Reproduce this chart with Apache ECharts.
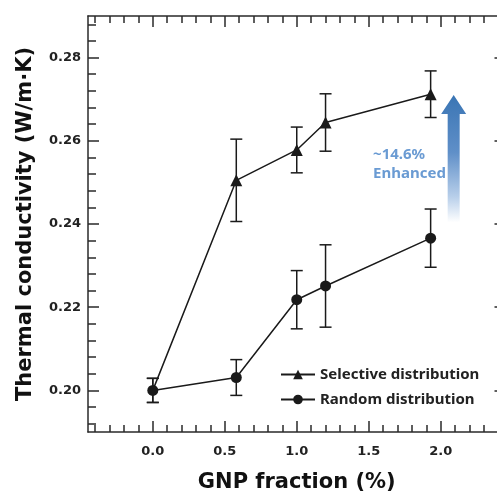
<!DOCTYPE html>
<html>
<head>
<meta charset="utf-8">
<script src="https://cdn.jsdelivr.net/npm/echarts@6/dist/echarts.min.js"></script>
<style>html,body{margin:0;padding:0;background:#fff;}#c{width:497px;height:496px;}</style>
</head>
<body>
<div id="c"></div>
<script>
// ---- data ----
const gnpFraction = [0, 0.58, 1.0, 1.2, 1.93];
const selective = [0.200, 0.2505, 0.2578, 0.2644, 0.2712];
const selectiveErr = [0.0029, 0.0099, 0.0055, 0.0069, 0.0056];
const random = [0.200, 0.2031, 0.2218, 0.2251, 0.2366];
const randomErr = [0.0029, 0.0043, 0.0070, 0.0099, 0.0070];
const seriesNames = ['Selective distribution', 'Random distribution'];
const annotationLines = ['~14.6%', 'Enhanced'];

// ---- ticks ----
const xMajor = [0, 0.5, 1.0, 1.5, 2.0];
const xMinor = [-0.4, -0.3, -0.2, -0.1, 0.1, 0.2, 0.3, 0.4, 0.6, 0.7, 0.8, 0.9,
  1.1, 1.2, 1.3, 1.4, 1.6, 1.7, 1.8, 1.9, 2.1, 2.2, 2.3, 2.4];
const yMajor = [0.20, 0.22, 0.24, 0.26, 0.28];
const yMinor = [0.192, 0.196, 0.204, 0.208, 0.212, 0.216, 0.224, 0.228, 0.232, 0.236,
  0.244, 0.248, 0.252, 0.256, 0.264, 0.268, 0.272, 0.276, 0.284, 0.288];

const X_MIN = -0.45, X_MAX = 2.45, Y_MIN = 0.19, Y_MAX = 0.29;
const AX = '#2a2a2a';
const LINE = '#1a1a1a';

function xAx(pos, ticks, len, showLine, labels) {
  return {
    type: 'value', min: X_MIN, max: X_MAX, position: pos,
    axisLine: { show: showLine, onZero: false, lineStyle: { color: AX, width: 1.5 } },
    axisTick: { show: true, inside: true, length: len, customValues: ticks, lineStyle: { color: AX, width: 1.5 } },
    axisLabel: labels ? {
      show: true, customValues: ticks, margin: 13,
      fontFamily: 'DejaVu Sans', fontWeight: 'bold', fontSize: 13, color: '#222',
      formatter: v => v.toFixed(1)
    } : { show: false },
    splitLine: { show: false }
  };
}
function yAx(pos, ticks, len, showLine, labels) {
  return {
    type: 'value', min: Y_MIN, max: Y_MAX, position: pos,
    axisLine: { show: showLine, onZero: false, lineStyle: { color: AX, width: 1.5 } },
    axisTick: { show: true, inside: true, length: len, customValues: ticks, lineStyle: { color: AX, width: 1.5 } },
    axisLabel: labels ? {
      show: true, customValues: ticks, margin: 7,
      fontFamily: 'DejaVu Sans', fontWeight: 'bold', fontSize: 13, color: '#222',
      formatter: v => v.toFixed(2)
    } : { show: false },
    splitLine: { show: false }
  };
}

const xAxes = [
  xAx('bottom', xMajor, 11, true, true),
  xAx('bottom', xMinor, 7, false, false),
  xAx('top', xMajor, 11, true, false),
  xAx('top', xMinor, 7, false, false)
];
Object.assign(xAxes[0], {
  name: 'GNP fraction (%)', nameLocation: 'middle', nameGap: 40,
  nameTextStyle: { fontFamily: 'DejaVu Sans', fontWeight: 'bold', fontSize: 21, color: '#111' }
});
const yAxes = [
  yAx('left', yMajor, 11, true, true),
  yAx('left', yMinor, 8, false, false),
  yAx('right', yMajor, 11, true, false),
  yAx('right', yMinor, 8, false, false)
];
Object.assign(yAxes[0], {
  name: 'Thermal conductivity (W/m·K)', nameLocation: 'middle', nameGap: 52, nameRotate: 90,
  nameTextStyle: { fontFamily: 'DejaVu Sans', fontWeight: 'bold', fontSize: 21, color: '#111' }
});

function pairs(xs, ys) { return xs.map((x, i) => [x, ys[i]]); }
function errData(xs, ys, es) { return xs.map((x, i) => [x, ys[i], es[i]]); }

function errRender(params, api) {
  const x = api.value(0), y = api.value(1), e = api.value(2);
  const t = api.coord([x, y + e]);
  const b = api.coord([x, y - e]);
  const w = 6;
  const st = { stroke: LINE, lineWidth: 1.5, fill: 'none' };
  return {
    type: 'group',
    children: [
      { type: 'line', shape: { x1: t[0], y1: t[1], x2: b[0], y2: b[1] }, style: st },
      { type: 'line', shape: { x1: t[0] - w, y1: t[1], x2: t[0] + w, y2: t[1] }, style: st },
      { type: 'line', shape: { x1: b[0] - w, y1: b[1], x2: b[0] + w, y2: b[1] }, style: st }
    ]
  };
}

const selData = pairs(gnpFraction, selective).map((p, i) =>
  i === 0 ? { value: p, symbolSize: 0 } : { value: p });

const chart = echarts.init(document.getElementById('c'), null, { renderer: 'canvas' });
const option = {
  animation: false,
  backgroundColor: '#fff',
  grid: { left: 88, top: 16, width: 417.5, height: 416, containLabel: false, outerBoundsMode: 'none' },
  xAxis: xAxes,
  yAxis: yAxes,
  legend: {
    orient: 'vertical', left: 275, top: 362,
    itemWidth: 34, itemHeight: 12, itemGap: 10,
    data: seriesNames,
    textStyle: { fontFamily: 'Noto Sans', fontWeight: 'bold', fontSize: 15, color: '#222' }
  },
  series: [
    {
      name: seriesNames[0], type: 'line', data: selData,
      symbol: 'triangle', symbolSize: 12,
      lineStyle: { color: LINE, width: 1.5 }, itemStyle: { color: LINE }, z: 3
    },
    {
      name: seriesNames[1], type: 'line', data: pairs(gnpFraction, random),
      symbol: 'circle', symbolSize: 11,
      lineStyle: { color: LINE, width: 1.5 }, itemStyle: { color: LINE }, z: 3
    },
    { name: 'selErr', type: 'custom', renderItem: errRender, data: errData(gnpFraction, selective, selectiveErr), z: 2, encode: { x: 0, y: 1 } },
    { name: 'randErr', type: 'custom', renderItem: errRender, data: errData(gnpFraction, random, randomErr), z: 2, encode: { x: 0, y: 1 } }
  ]
};
chart.setOption(option);

// annotation arrow + text positioned in data coordinates
const arrowX = 2.09, arrowTop = 0.2710, arrowBottom = 0.2404;
const tip = chart.convertToPixel({ gridIndex: 0 }, [arrowX, arrowTop]);
const bot = chart.convertToPixel({ gridIndex: 0 }, [arrowX, arrowBottom]);
const cx = tip[0], headH = 19, headW = 12.5, shaftW = 6;
const txtPos = chart.convertToPixel({ gridIndex: 0 }, [1.53, 0.2544]);
chart.setOption({
  graphic: [
    {
      type: 'polygon',
      shape: { points: [
        [cx, tip[1]], [cx + headW, tip[1] + headH], [cx + shaftW, tip[1] + headH],
        [cx + shaftW, bot[1]], [cx - shaftW, bot[1]], [cx - shaftW, tip[1] + headH],
        [cx - headW, tip[1] + headH]
      ] },
      style: {
        fill: new echarts.graphic.LinearGradient(0, 0, 0, 1, [
          { offset: 0, color: '#3a75b4' },
          { offset: 0.45, color: '#5f8fc8' },
          { offset: 0.8, color: '#b8cfea' },
          { offset: 1, color: '#ffffff' }
        ])
      },
      z: 1
    },
    {
      type: 'text', x: txtPos[0], y: txtPos[1],
      style: {
        text: annotationLines.join('\n'),
        fontFamily: 'Noto Sans', fontWeight: 'bold', fontSize: 15, lineHeight: 19,
        fill: '#6a9bd3', align: 'left', verticalAlign: 'middle'
      },
      z: 5
    }
  ]
});
</script>
</body>
</html>
